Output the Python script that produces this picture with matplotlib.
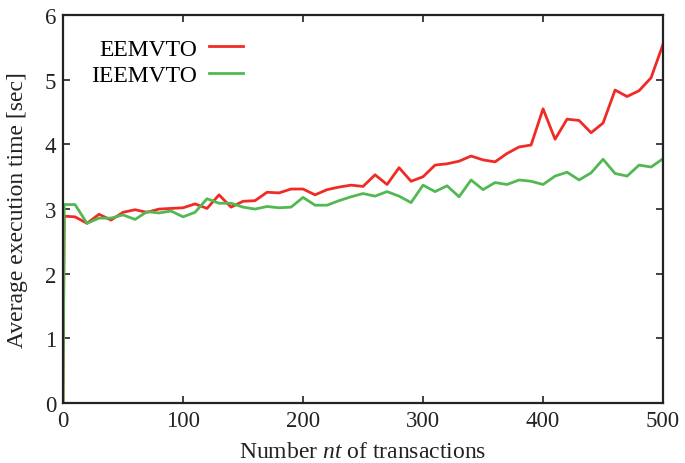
import matplotlib
matplotlib.use("Agg")
import matplotlib.pyplot as plt

nt = [0, 1, 10, 20, 30, 40, 50, 60, 70, 80, 90, 100,
      110, 120, 130, 140, 150, 160, 170, 180, 190, 200,
      210, 220, 230, 240, 250, 260, 270, 280, 290, 300,
      310, 320, 330, 340, 350, 360, 370, 380, 390, 400,
      410, 420, 430, 440, 450, 460, 470, 480, 490, 500]

eemvto = [0.0, 2.89, 2.88, 2.78, 2.92, 2.83, 2.95, 2.99, 2.95, 3.00, 3.01, 3.02,
          3.08, 3.01, 3.22, 3.03, 3.12, 3.13, 3.26, 3.25, 3.31, 3.31,
          3.22, 3.30, 3.34, 3.37, 3.35, 3.53, 3.38, 3.64, 3.43, 3.50,
          3.68, 3.70, 3.74, 3.82, 3.76, 3.73, 3.86, 3.96, 3.99, 4.55,
          4.08, 4.39, 4.37, 4.18, 4.33, 4.84, 4.74, 4.83, 5.03, 5.55]

ieemvto = [0.0, 3.07, 3.07, 2.78, 2.86, 2.86, 2.91, 2.84, 2.96, 2.94, 2.97, 2.88,
           2.95, 3.16, 3.09, 3.09, 3.03, 3.00, 3.04, 3.02, 3.03, 3.18,
           3.06, 3.06, 3.13, 3.19, 3.24, 3.20, 3.27, 3.20, 3.10, 3.37,
           3.27, 3.36, 3.19, 3.45, 3.30, 3.41, 3.38, 3.45, 3.43, 3.38,
           3.51, 3.57, 3.45, 3.56, 3.77, 3.55, 3.51, 3.68, 3.65, 3.78]

labels = ["EEMVTO", "IEEMVTO"]
colors = ["#f02b25", "#52b952"]

plt.rcParams["font.family"] = ["Liberation Serif", "DejaVu Serif"]
plt.rcParams["mathtext.fontset"] = "custom"
plt.rcParams["mathtext.it"] = "Liberation Serif:italic"
plt.rcParams["mathtext.rm"] = "Liberation Serif"

fig = plt.figure(figsize=(6.85, 4.64), dpi=100)
ax = fig.add_axes([0.092, 0.129, 0.876, 0.8365])

ax.plot(nt, eemvto, color=colors[0], lw=2.0, label=labels[0])
ax.plot(nt, ieemvto, color=colors[1], lw=2.0, label=labels[1])

ax.set_xlim(0, 500)
ax.set_ylim(0, 6)
ax.set_xticks([0, 100, 200, 300, 400, 500])
ax.set_yticks([0, 1, 2, 3, 4, 5, 6])
ax.tick_params(direction="in", length=5, width=1.2, top=True, right=True,
               labelsize=16.5, colors="#222222", pad=5)
for s in ax.spines.values():
    s.set_linewidth(1.6)
    s.set_color("#222222")

ax.set_xlabel("Number $nt$ of transactions", fontsize=17, color="#222222", labelpad=7)
ax.set_ylabel("Average execution time [sec]", fontsize=17, color="#222222", labelpad=12)

leg = ax.legend(loc="upper left", frameon=False, markerfirst=False, fontsize=17,
                handlelength=1.45, handletextpad=0.5, labelspacing=0.2,
                bbox_to_anchor=(0.02, 0.983), borderaxespad=0.3)

fig.savefig("out.png", dpi=100)
